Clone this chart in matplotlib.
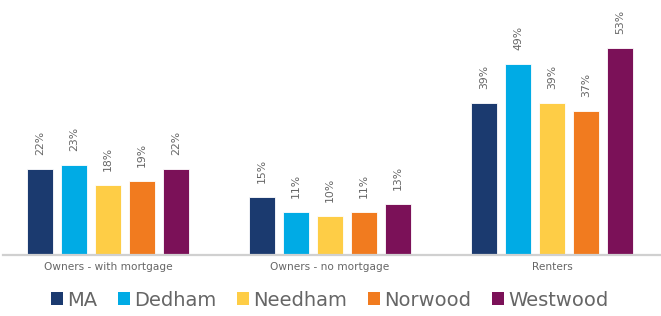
import numpy as np
import matplotlib
matplotlib.use("Agg")
import matplotlib.pyplot as plt
from matplotlib.patches import Patch

categories = ["Owners - with mortgage", "Owners - no mortgage", "Renters"]
series = ["MA", "Dedham", "Needham", "Norwood", "Westwood"]
values = {
    "MA": [22, 15, 39],
    "Dedham": [23, 11, 49],
    "Needham": [18, 10, 39],
    "Norwood": [19, 11, 37],
    "Westwood": [22, 13, 53],
}
colors = ["#1b3a6f", "#00abe5", "#fecd46", "#f17b1f", "#7b1158"]
text_gray = "#666666"


def main():
    fig = plt.figure(figsize=(6.61, 3.16), dpi=100)
    ax = fig.add_axes([3 / 661, 61 / 316, 658 / 661, 255 / 316])

    x = np.arange(len(categories))
    width = 0.118
    pitch = 0.153
    for i, (name, col) in enumerate(zip(series, colors)):
        pos = x + (i - 2) * pitch
        bars = ax.bar(pos, values[name], width, color=col, edgecolor="white",
                      linewidth=0.6)
        for b, v in zip(bars, values[name]):
            ax.annotate(f"{v}%", (b.get_x() + b.get_width() / 2, v),
                        xytext=(0, 10), textcoords="offset points",
                        rotation=90, ha="center", va="bottom",
                        fontsize=7.8, color=text_gray)

    ax.set_xlim(-0.473, 2.49)
    ax.set_ylim(0, 65.4)
    ax.set_yticks([])
    ax.set_xticks(x)
    ax.set_xticklabels(categories, fontsize=7.6, color=text_gray)
    ax.tick_params(axis="x", length=0, pad=5)
    for s in ["top", "right", "left"]:
        ax.spines[s].set_visible(False)
    ax.spines["bottom"].set_color("#d0d0d0")
    ax.spines["bottom"].set_linewidth(1.6)

    handles = [Patch(facecolor=c, label=n) for n, c in zip(series, colors)]
    fig.legend(handles=handles, loc="lower left", bbox_to_anchor=(0.05, -0.035),
               ncol=5, frameon=False, fontsize=14, handlelength=0.65,
               handleheight=0.65, handletextpad=0.2, columnspacing=1.05,
               labelcolor=text_gray)

    fig.savefig("out.png", dpi=100)


if __name__ == "__main__":
    main()
